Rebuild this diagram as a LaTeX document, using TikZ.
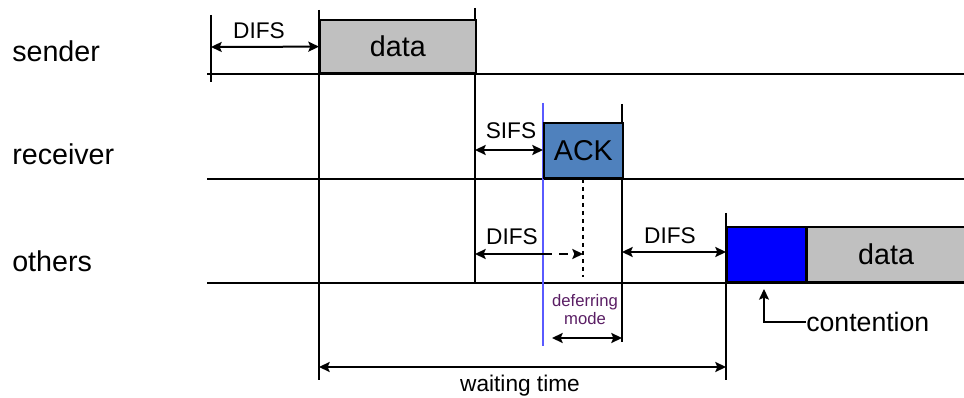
\documentclass[tikz,border=0pt]{standalone}
\usepackage{fontspec}
\setmainfont{Liberation Sans}
\usetikzlibrary{arrows.meta}

\definecolor{framegray}{RGB}{192,192,192}
\definecolor{ackblue}{RGB}{79,129,189}
\definecolor{contblue}{RGB}{0,0,255}
\definecolor{markblue}{RGB}{90,90,255}
\definecolor{deferpurple}{RGB}{90,30,100}

\tikzset{
  tip/.tip={Stealth[length=8pt,width=7.5pt,inset=1.5pt]},
  timeline/.style={line width=1.5pt},
  tick/.style={line width=0.8pt},
  span/.style={line width=1.5pt, tip-tip},
  frame/.style={draw, line width=1.3pt, inner sep=0pt, anchor=south west},
  rowlabel/.style={anchor=base west, inner sep=0pt, font=\fontsize{21.5pt}{24pt}\selectfont},
  spanlabel/.style={inner sep=0pt, font=\fontsize{17pt}{20pt}\selectfont}
}

\begin{document}
\begin{tikzpicture}[x=0.75pt, y=-0.75pt]
    \useasboundingbox (0,0) rectangle (964,398);

    % Stations
    \node[rowlabel] (sender) at (12,62) {sender};
    \node[rowlabel] (receiver) at (12,165) {receiver};
    \node[rowlabel] (others) at (12,272) {others};

    % Time lines
    \draw[timeline] (207,74) -- (964,74);
    \draw[timeline] (207,179) -- (964,179);
    \draw[timeline] (207,283) -- (964,283);

    % Instants on the time axis
    \coordinate (t0) at (211,0);
    \coordinate (t1) at (319,0);
    \coordinate (t2) at (475,0);
    \coordinate (t3) at (543,0);
    \coordinate (t4) at (583,0);
    \coordinate (t5) at (622,0);
    \coordinate (t6) at (726,0);

    % Vertical markers
    \draw[tick] (211,15) -- (211,82);
    \draw[tick] (319,10) -- (319,380);
    \draw[tick] (475,8) -- (475,283);
    \draw[tick] (622,104) -- (622,342);
    \draw[tick] (726,213) -- (726,380);
    \draw[tick, dashed] (583,179) -- (583,277);
    \draw[line width=1pt, markblue] (543,103) -- (543,346);

    % Frames
    \node[frame, fill=framegray, minimum width=117pt, minimum height=39.75pt,
          font=\fontsize{21.5pt}{24pt}\selectfont] (data1) at (319,74) {data};
    \node[frame, fill=ackblue, minimum width=59.25pt, minimum height=41.25pt,
          font=\fontsize{21.5pt}{24pt}\selectfont] (ack) at (543,179) {ACK};
    \node[frame, fill=contblue, minimum width=59.25pt, minimum height=41.25pt] (cw) at (726,283) {};
    \node[frame, fill=framegray, minimum width=117.75pt, minimum height=41.25pt,
          font=\fontsize{21.5pt}{24pt}\selectfont] (data2) at (cw.south east) {data};

    % Inter frame spaces
    \draw[span] (t0 |- 0,47) -- (data1.west);
    \node[spanlabel] (difs1) at (259,31) {DIFS};
    \draw[span] (t2 |- 0,150) -- (t3 |- 0,150);
    \node[spanlabel] (sifs) at (511,131) {SIFS};
    \draw[line width=1.5pt, -tip] (t3 |- 0,254) -- (t2 |- 0,254);
    \draw[line width=1.5pt, dash pattern=on 7pt off 5pt, -tip] (t3 |- 0,254) -- (t4 |- 0,254);
    \node[spanlabel] (difs2) at (512,237) {DIFS};
    \draw[span] (t5 |- 0,252) -- (t6 |- 0,252);
    \node[spanlabel] (difs3) at (670,236) {DIFS};

    % Deferring mode
    \node[deferpurple, align=center, inner sep=0pt, font=\fontsize{12.5pt}{13.5pt}\selectfont]
        (defer) at (585,310) {deferring\\mode};
    \draw[span] (552,338) -- (t5 |- 0,338);

    % Contention window
    \node[anchor=west, inner sep=0pt, font=\fontsize{20pt}{24pt}\selectfont] (cont) at (806,322) {contention};
    \draw[line width=0.8pt, -tip] (cont.west) -| (764,289);

    % Waiting time
    \draw[span] (t1 |- 0,367) -- (t6 |- 0,367);
    \node[spanlabel] (wait) at (520,386) {waiting time};
\end{tikzpicture}
\end{document}
